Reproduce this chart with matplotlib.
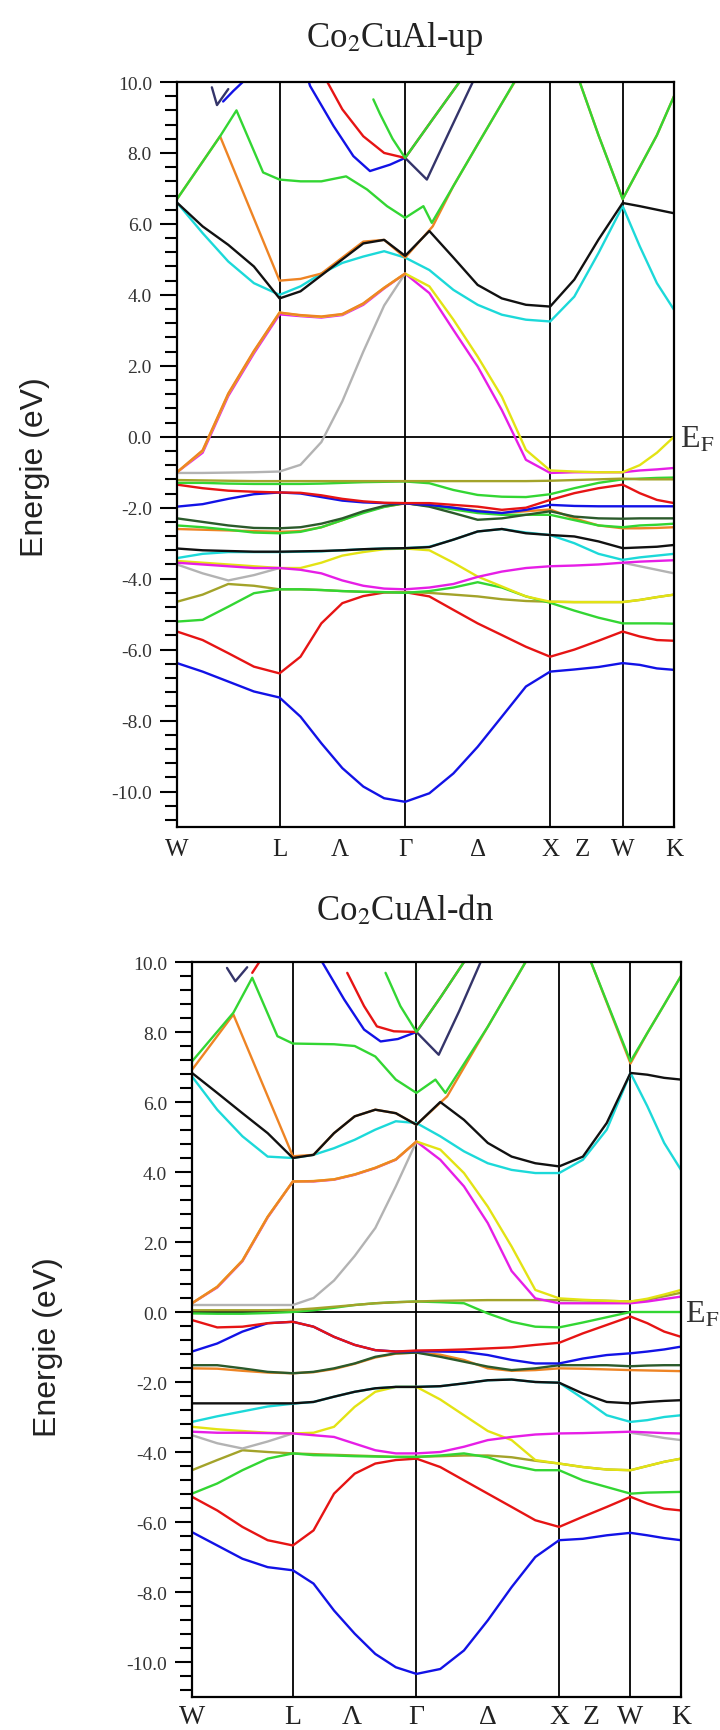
import numpy as np
import matplotlib
matplotlib.use("Agg")
import matplotlib.pyplot as plt
from matplotlib.ticker import MultipleLocator

plt.rcParams['font.family'] = ['Liberation Serif', 'DejaVu Serif']
plt.rcParams['mathtext.fontset'] = 'stix'
plt.rcParams['axes.unicode_minus'] = False

# ---------------- data ----------------
# high-symmetry path W-L-G-X-W-K, cumulative distance (2pi/a)
HS_POS = [0, 1, 2, 3, 4, 5]
HS_K = [0.0, 0.707, 1.573, 2.573, 3.073, 3.427]
LABEL_NAMES = ['W', 'L', 'Λ', 'Γ', 'Δ', 'X', 'Z', 'W', 'K']
LABEL_POS = [0, 1, 1.48, 2, 2.5, 3, 3.45, 4, 5]
Y_TICKS = [10, 8, 6, 4, 2, 0, -2, -4, -6, -8, -10]

# common sampling positions along the path (0=W,1=L,2=G,3=X,4=W,5=K)
P23 = [0, .25, .5, .75, 1, 1.167, 1.333, 1.5, 1.667, 1.833, 2,
       2.167, 2.333, 2.5, 2.667, 2.833, 3, 3.333, 3.667, 4, 4.333, 4.667, 5]
P_WG = P23[:11]

UP_BANDS = [
    ('blue', P23, [-6.38, -6.62, -6.90, -7.18, -7.35, -7.89, -8.64, -9.34, -9.86, -10.19, -10.29, -10.05, -9.49, -8.74, -7.89, -7.04, -6.62, -6.56, -6.49, -6.38, -6.43, -6.53, -6.57]),
    ('red', P23, [-5.49, -5.73, -6.10, -6.48, -6.67, -6.20, -5.26, -4.69, -4.49, -4.39, -4.38, -4.50, -4.88, -5.26, -5.59, -5.92, -6.20, -6.00, -5.75, -5.49, -5.63, -5.73, -5.75]),
    ('olive', P23, [-4.65, -4.45, -4.15, -4.20, -4.30, -4.30, -4.32, -4.35, -4.37, -4.38, -4.38, -4.40, -4.45, -4.50, -4.58, -4.63, -4.65, -4.66, -4.66, -4.66, -4.60, -4.52, -4.45]),
    ('green', P23, [-5.21, -5.16, -4.79, -4.41, -4.30, -4.30, -4.32, -4.35, -4.37, -4.38, -4.40, -4.35, -4.25, -4.10, -4.25, -4.50, -4.68, -4.90, -5.10, -5.26, -5.26, -5.26, -5.27]),
    ('gray', [0, .25, .5, .75, 1], [-3.60, -3.85, -4.05, -3.90, -3.70]),
    ('gray', [4, 4.333, 4.667, 5], [-3.55, -3.65, -3.75, -3.85]),
    ('yellow', P23, [-3.50, -3.55, -3.60, -3.65, -3.70, -3.70, -3.55, -3.35, -3.25, -3.17, -3.15, -3.20, -3.55, -3.94, -4.22, -4.50, -4.65, -4.66, -4.66, -4.66, -4.60, -4.52, -4.45]),
    ('magenta', P23, [-3.55, -3.60, -3.65, -3.70, -3.70, -3.75, -3.85, -4.05, -4.20, -4.28, -4.30, -4.25, -4.15, -3.95, -3.80, -3.70, -3.65, -3.63, -3.60, -3.55, -3.52, -3.50, -3.48]),
    ('cyan', P23, [-3.42, -3.30, -3.25, -3.25, -3.25, -3.24, -3.23, -3.20, -3.17, -3.15, -3.14, -3.10, -2.90, -2.67, -2.60, -2.70, -2.77, -3.00, -3.30, -3.47, -3.40, -3.35, -3.30]),
    ('black', P23, [-3.15, -3.20, -3.22, -3.24, -3.24, -3.23, -3.22, -3.20, -3.17, -3.15, -3.14, -3.11, -2.90, -2.67, -2.60, -2.72, -2.77, -2.81, -2.95, -3.14, -3.12, -3.10, -3.05]),
    ('orange', P23, [-2.60, -2.62, -2.64, -2.66, -2.68, -2.66, -2.55, -2.35, -2.12, -1.97, -1.88, -1.93, -2.00, -2.08, -2.15, -2.10, -2.05, -2.30, -2.50, -2.58, -2.58, -2.57, -2.55]),
    ('green', P23, [-2.50, -2.55, -2.62, -2.70, -2.72, -2.68, -2.55, -2.35, -2.15, -1.98, -1.87, -1.95, -2.05, -2.15, -2.20, -2.20, -2.20, -2.35, -2.50, -2.55, -2.50, -2.48, -2.45]),
    ('dkgreen', P23, [-2.30, -2.40, -2.50, -2.57, -2.58, -2.55, -2.45, -2.30, -2.10, -1.95, -1.87, -1.97, -2.15, -2.34, -2.30, -2.20, -2.10, -2.25, -2.30, -2.31, -2.30, -2.30, -2.30]),
    ('blue', P23, [-1.97, -1.90, -1.75, -1.62, -1.57, -1.60, -1.70, -1.80, -1.85, -1.87, -1.88, -1.92, -2.00, -2.10, -2.15, -2.06, -1.92, -1.95, -1.96, -1.96, -1.96, -1.96, -1.96]),
    ('red', P23, [-1.35, -1.45, -1.52, -1.55, -1.57, -1.58, -1.65, -1.75, -1.82, -1.86, -1.87, -1.87, -1.92, -1.97, -2.06, -2.00, -1.78, -1.59, -1.45, -1.35, -1.59, -1.78, -1.87]),
    ('green', P23, [-1.30, -1.30, -1.32, -1.33, -1.33, -1.33, -1.32, -1.30, -1.28, -1.27, -1.26, -1.31, -1.50, -1.64, -1.69, -1.70, -1.62, -1.45, -1.30, -1.20, -1.18, -1.16, -1.15]),
    ('olive', P23, [-1.22, -1.23, -1.24, -1.25, -1.25, -1.25, -1.25, -1.25, -1.25, -1.25, -1.25, -1.25, -1.25, -1.25, -1.25, -1.25, -1.24, -1.22, -1.20, -1.18, -1.20, -1.20, -1.20]),
    ('gray', P_WG, [-1.02, -1.02, -1.01, -1.00, -0.98, -0.79, -0.15, 1.00, 2.40, 3.70, 4.60]),
    ('magenta', P23, [-1.00, -0.45, 1.15, 2.35, 3.45, 3.40, 3.36, 3.43, 3.72, 4.18, 4.60, 4.05, 3.01, 1.98, 0.75, -0.65, -1.02, -1.00, -1.00, -1.00, -0.95, -0.92, -0.88]),
    ('yellow', P23, [-1.00, -0.40, 1.20, 2.40, 3.50, 3.42, 3.38, 3.45, 3.75, 4.20, 4.60, 4.24, 3.30, 2.26, 1.13, -0.37, -0.95, -0.98, -1.00, -1.00, -0.80, -0.45, 0.00]),
    ('orange', P_WG, [-1.00, -0.38, 1.22, 2.42, 3.50, 3.43, 3.39, 3.46, 3.76, 4.20, 4.60]),
    ('cyan', P23, [6.60, 5.74, 4.94, 4.33, 4.00, 4.24, 4.60, 4.90, 5.08, 5.23, 5.05, 4.70, 4.14, 3.72, 3.44, 3.30, 3.25, 3.95, 5.18, 6.50, 5.37, 4.33, 3.58]),
    ('orange', [0, 0.42, 1.0, 1.167, 1.333, 1.5, 1.667, 1.833, 2.0, 2.19, 2.333, 2.5, 2.667, 2.76, 2.9, 3.2, 3.667, 4.0, 4.333, 4.667, 5.0],
               [6.70, 8.47, 4.40, 4.45, 4.60, 5.05, 5.50, 5.55, 5.05, 5.93, 7.07, 8.24, 9.40, 10.03, 10.80, 11.20, 8.50, 6.70, 7.60, 8.50, 9.60]),
    ('green', [0, 0.42, 0.58, 0.84, 1.0, 1.167, 1.333, 1.53, 1.697, 1.856, 2.0, 2.126, 2.184, 2.333, 2.5, 2.667, 2.757, 2.9, 3.2, 3.667, 4.0, 4.333, 4.667, 5.0],
              [6.70, 8.47, 9.20, 7.45, 7.25, 7.20, 7.20, 7.34, 6.97, 6.50, 6.17, 6.50, 6.03, 7.07, 8.24, 9.40, 10.03, 10.80, 11.20, 8.50, 6.70, 7.60, 8.50, 9.60]),
    ('black', P23, [6.60, 5.93, 5.41, 4.80, 3.90, 4.10, 4.55, 5.00, 5.45, 5.55, 5.10, 5.80, 5.05, 4.28, 3.90, 3.72, 3.67, 4.43, 5.56, 6.59, 6.50, 6.40, 6.30]),
    ('blue', [1.2, 1.243, 1.43, 1.588, 1.72, 1.88, 2.0], [10.40, 9.89, 8.76, 7.91, 7.49, 7.67, 7.86]),
    ('navy', [2.0, 2.15, 2.3, 2.47, 2.55], [7.86, 7.25, 8.56, 10.03, 10.80]),
    ('red', [1.33, 1.376, 1.5, 1.667, 1.833, 2.0, 2.19, 2.38, 2.45], [10.50, 10.03, 9.23, 8.47, 8.00, 7.86, 8.95, 10.03, 10.50]),
    ('green', [1.747, 1.8, 1.9, 2.0, 2.19, 2.38, 2.45], [9.51, 9.10, 8.40, 7.86, 8.95, 10.03, 10.50]),
    ('navy', [0.34, 0.39, 0.5], [9.85, 9.35, 9.80]),
    ('blue', [0.45, 0.55, 0.66], [9.45, 9.75, 10.05]),
]

DN_BANDS = [
    ('blue', P23, [-6.29, -6.67, -7.05, -7.29, -7.38, -7.76, -8.53, -9.19, -9.77, -10.15, -10.34, -10.20, -9.67, -8.81, -7.86, -7.00, -6.52, -6.48, -6.38, -6.31, -6.38, -6.46, -6.52]),
    ('red', P23, [-5.28, -5.67, -6.14, -6.52, -6.67, -6.24, -5.19, -4.62, -4.33, -4.23, -4.19, -4.43, -4.81, -5.19, -5.57, -5.95, -6.14, -5.85, -5.57, -5.28, -5.47, -5.62, -5.67]),
    ('olive', P23, [-4.52, -4.23, -3.95, -4.00, -4.04, -4.06, -4.08, -4.10, -4.12, -4.14, -4.14, -4.12, -4.10, -4.10, -4.15, -4.25, -4.33, -4.43, -4.50, -4.52, -4.40, -4.28, -4.19]),
    ('green', P23, [-5.19, -4.90, -4.52, -4.19, -4.04, -4.09, -4.10, -4.12, -4.13, -4.14, -4.14, -4.10, -4.04, -4.15, -4.38, -4.52, -4.52, -4.81, -5.00, -5.19, -5.16, -5.15, -5.14]),
    ('gray', [0, .25, .5, .75, 1], [-3.52, -3.75, -3.90, -3.70, -3.47]),
    ('gray', [4, 4.333, 4.667, 5], [-3.45, -3.52, -3.60, -3.66]),
    ('yellow', P23, [-3.28, -3.35, -3.40, -3.45, -3.47, -3.45, -3.28, -2.71, -2.28, -2.14, -2.14, -2.50, -2.95, -3.40, -3.66, -4.23, -4.33, -4.43, -4.50, -4.52, -4.40, -4.28, -4.19]),
    ('magenta', P23, [-3.42, -3.45, -3.45, -3.46, -3.47, -3.52, -3.57, -3.76, -3.95, -4.04, -4.04, -4.00, -3.85, -3.66, -3.57, -3.50, -3.47, -3.46, -3.44, -3.42, -3.44, -3.46, -3.47]),
    ('cyan', P23, [-3.14, -2.98, -2.84, -2.70, -2.62, -2.57, -2.42, -2.28, -2.18, -2.14, -2.14, -2.12, -2.04, -1.95, -1.93, -2.00, -2.02, -2.47, -2.95, -3.14, -3.09, -3.00, -2.95]),
    ('black', P23, [-2.61, -2.61, -2.61, -2.61, -2.61, -2.57, -2.42, -2.28, -2.18, -2.14, -2.14, -2.12, -2.04, -1.95, -1.93, -2.00, -2.02, -2.33, -2.57, -2.61, -2.57, -2.54, -2.52]),
    ('orange', P23, [-1.61, -1.62, -1.68, -1.73, -1.75, -1.72, -1.63, -1.48, -1.30, -1.19, -1.16, -1.22, -1.37, -1.61, -1.68, -1.66, -1.61, -1.62, -1.64, -1.66, -1.67, -1.68, -1.69]),
    ('dkgreen', P23, [-1.52, -1.52, -1.61, -1.71, -1.75, -1.71, -1.61, -1.47, -1.28, -1.18, -1.16, -1.28, -1.42, -1.56, -1.66, -1.61, -1.52, -1.52, -1.52, -1.55, -1.53, -1.52, -1.52]),
    ('blue', P23, [-1.13, -0.90, -0.56, -0.32, -0.28, -0.42, -0.71, -0.94, -1.09, -1.13, -1.12, -1.13, -1.14, -1.23, -1.37, -1.47, -1.47, -1.33, -1.23, -1.18, -1.13, -1.07, -0.99]),
    ('red', P23, [-0.23, -0.44, -0.42, -0.32, -0.28, -0.42, -0.71, -0.94, -1.09, -1.13, -1.10, -1.09, -1.07, -1.04, -1.01, -0.94, -0.88, -0.61, -0.37, -0.13, -0.32, -0.56, -0.71]),
    ('green', P23, [-0.04, -0.05, -0.05, -0.03, 0.00, 0.05, 0.12, 0.20, 0.25, 0.28, 0.30, 0.28, 0.25, -0.04, -0.28, -0.42, -0.44, -0.30, -0.15, 0.00, 0.00, 0.00, 0.00]),
    ('olive', P23, [0.05, 0.05, 0.05, 0.05, 0.06, 0.10, 0.15, 0.20, 0.25, 0.28, 0.30, 0.32, 0.33, 0.34, 0.34, 0.34, 0.34, 0.33, 0.32, 0.30, 0.35, 0.45, 0.55]),
    ('gray', P_WG, [0.20, 0.20, 0.20, 0.20, 0.20, 0.40, 0.90, 1.60, 2.40, 3.59, 4.87]),
    ('magenta', P23, [0.25, 0.70, 1.45, 2.70, 3.73, 3.73, 3.78, 3.92, 4.11, 4.35, 4.87, 4.35, 3.59, 2.54, 1.17, 0.39, 0.25, 0.25, 0.25, 0.25, 0.30, 0.37, 0.44]),
    ('yellow', P23, [0.25, 0.72, 1.47, 2.72, 3.73, 3.74, 3.79, 3.93, 4.12, 4.36, 4.87, 4.64, 3.97, 3.01, 1.87, 0.63, 0.39, 0.35, 0.32, 0.30, 0.38, 0.50, 0.63]),
    ('orange', P_WG, [0.25, 0.72, 1.47, 2.72, 3.73, 3.74, 3.79, 3.93, 4.12, 4.36, 4.87]),
    ('cyan', P23, [6.73, 5.78, 5.02, 4.44, 4.40, 4.49, 4.68, 4.92, 5.21, 5.45, 5.40, 5.02, 4.59, 4.25, 4.06, 3.97, 3.97, 4.35, 5.21, 6.83, 5.88, 4.83, 4.06]),
    ('orange', [0, 0.41, 1.0, 1.167, 1.333, 1.5, 1.667, 1.833, 2.0, 2.215, 2.5, 2.762, 2.9, 3.2, 3.45, 4.0, 4.333, 4.667, 5.0],
               [6.92, 8.50, 4.45, 4.49, 5.11, 5.59, 5.78, 5.68, 5.35, 6.16, 8.15, 9.98, 10.80, 11.20, 9.98, 7.10, 7.97, 8.78, 9.60]),
    ('green', [0, 0.41, 0.597, 0.847, 1.0, 1.167, 1.333, 1.5, 1.667, 1.833, 2.0, 2.133, 2.203, 2.5, 2.762, 2.9, 3.2, 3.45, 4.0, 4.333, 4.667, 5.0],
              [7.16, 8.55, 9.55, 7.88, 7.67, 7.66, 7.65, 7.60, 7.30, 6.64, 6.26, 6.64, 6.26, 8.15, 9.98, 10.80, 11.20, 9.98, 7.16, 7.97, 8.78, 9.60]),
    ('black', P23, [6.83, 6.26, 5.68, 5.11, 4.40, 4.49, 5.11, 5.59, 5.78, 5.68, 5.35, 6.00, 5.49, 4.83, 4.44, 4.25, 4.16, 4.44, 5.40, 6.83, 6.78, 6.69, 6.64]),
    ('blue', [1.2, 1.24, 1.415, 1.576, 1.71, 1.85, 2.0], [10.30, 9.98, 8.93, 8.07, 7.73, 7.80, 8.00]),
    ('navy', [2.0, 2.156, 2.3, 2.448, 2.5], [8.00, 7.35, 8.60, 9.98, 10.50]),
    ('red', [1.44, 1.576, 1.68, 1.817, 2.0, 2.17, 2.33, 2.4], [9.69, 8.74, 8.16, 8.02, 8.00, 9.00, 9.98, 10.50]),
    ('green', [1.75, 1.87, 2.0, 2.17, 2.33, 2.4], [9.69, 8.74, 8.00, 9.00, 9.98, 10.50]),
    ('navy', [0.347, 0.43, 0.547], [9.83, 9.45, 9.85]),
    ('red', [0.597, 0.663], [9.69, 9.98]),
]

COLORS = dict(blue='#1212e6', red='#e61414', green='#33d633', cyan='#1cd9d9',
              magenta='#e61ee6', yellow='#e3e314', orange='#ee8424', olive='#a3a32a',
              gray='#b3b3b3', black='#111111', dkgreen='#2b5a2b', navy='#34346a')

W, H = 720, 1731


def p2k(p):
    return np.interp(p, HS_POS, HS_K)


def draw_panel(ax, bands, lab_size, lab_pad):
    ax.set_xlim(HS_K[0], HS_K[-1])
    ax.set_ylim(-11, 10)
    for k in HS_K[1:-1]:
        ax.axvline(k, color='black', lw=1.3, zorder=1)
    ax.axhline(0, color='black', lw=1.3, zorder=1)
    for color, p, e in bands:
        ax.plot(p2k(p), e, color=COLORS[color], lw=1.7, zorder=2,
                solid_joinstyle='round', solid_capstyle='round')
    ax.set_yticks(Y_TICKS)
    ax.set_yticklabels([f'{v:.1f}' for v in Y_TICKS])
    ax.yaxis.set_minor_locator(MultipleLocator(0.4))
    ax.tick_params(axis='y', which='major', direction='out', length=12,
                   width=1.5, pad=6, labelsize=14, labelcolor='#333333')
    ax.tick_params(axis='y', which='minor', direction='out', length=8.5, width=1.5)
    ax.set_xticks([p2k(p) for p in LABEL_POS])
    ax.set_xticklabels(LABEL_NAMES)
    ax.tick_params(axis='x', length=0, pad=lab_pad, labelsize=lab_size,
                   labelcolor='#222222')
    for s in ax.spines.values():
        s.set_linewidth(1.6)


fig = plt.figure(figsize=(W / 100, H / 100), dpi=100)

ax_up = fig.add_axes([177 / W, 1 - 828 / H, (674 - 177) / W, (828 - 83) / H])
ax_dn = fig.add_axes([192 / W, 1 - 1698 / H, (681 - 192) / W, (1698 - 963) / H])

draw_panel(ax_up, UP_BANDS, 18, 8)
draw_panel(ax_dn, DN_BANDS, 20, 5)

fig.text(395 / W, 1 - 47 / H, 'Co$_2$CuAl-up', ha='center', va='baseline',
         fontsize=25, color='#222222')
fig.text(405 / W, 1 - 920 / H, 'Co$_2$CuAl-dn', ha='center', va='baseline',
         fontsize=25, color='#222222')

fig.text(35 / W, 1 - 467 / H, 'Energie (eV)', rotation=90, ha='center', va='center',
         fontsize=23, family=['Liberation Sans', 'DejaVu Sans'], color='#222222')
fig.text(48 / W, 1 - 1347 / H, 'Energie (eV)', rotation=90, ha='center', va='center',
         fontsize=23, family=['Liberation Sans', 'DejaVu Sans'], color='#222222')

fig.text(680 / W, 1 - 448 / H, 'E$_\\mathrm{F}$', ha='left', va='baseline',
         fontsize=23, color='#333333')
fig.text(685 / W, 1 - 1323 / H, 'E$_\\mathrm{F}$', ha='left', va='baseline',
         fontsize=23, color='#333333')

fig.savefig('out.png', dpi=100)
